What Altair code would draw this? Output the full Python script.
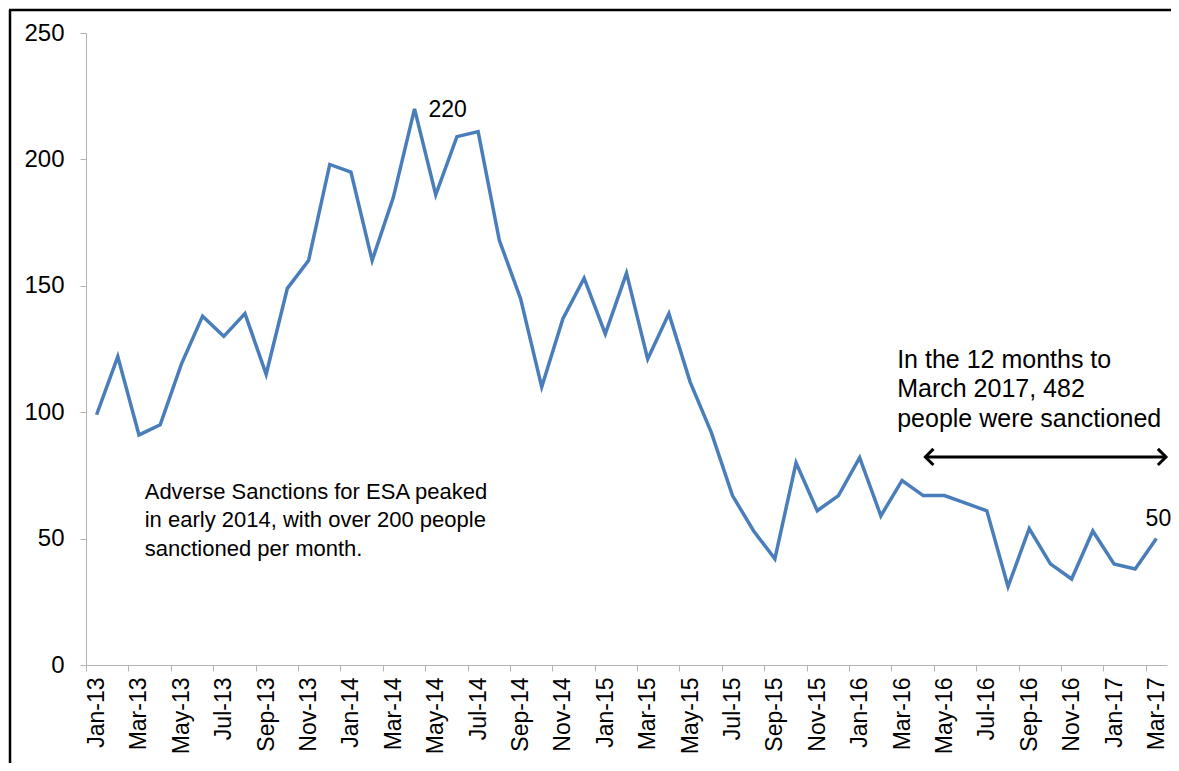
import json
import altair as alt
import pandas as pd

# ---------------- data ----------------
months = [
    "Jan-13", "Feb-13", "Mar-13", "Apr-13", "May-13", "Jun-13", "Jul-13", "Aug-13", "Sep-13", "Oct-13", "Nov-13", "Dec-13",
    "Jan-14", "Feb-14", "Mar-14", "Apr-14", "May-14", "Jun-14", "Jul-14", "Aug-14", "Sep-14", "Oct-14", "Nov-14", "Dec-14",
    "Jan-15", "Feb-15", "Mar-15", "Apr-15", "May-15", "Jun-15", "Jul-15", "Aug-15", "Sep-15", "Oct-15", "Nov-15", "Dec-15",
    "Jan-16", "Feb-16", "Mar-16", "Apr-16", "May-16", "Jun-16", "Jul-16", "Aug-16", "Sep-16", "Oct-16", "Nov-16", "Dec-16",
    "Jan-17", "Feb-17", "Mar-17",
]
sanctions = [
    99, 122, 91, 95, 119, 138, 130, 139, 115, 149, 160, 198,
    195, 160, 185, 220, 186, 209, 211, 168, 145, 110, 137, 153,
    131, 155, 121, 139, 112, 92, 67, 53, 42, 80, 61, 67,
    82, 59, 73, 67, 67, 64, 61, 31, 54, 40, 34, 53,
    40, 38, 50,
]
y_ticks = [0, 50, 100, 150, 200, 250]

# annotations (data coordinates: month index, value)
note1_lines = ["Adverse Sanctions for ESA peaked", "in early 2014, with over 200 people", "sanctioned per month."]
note1_pos = [2.27, 72.5]
note2_lines = ["In the 12 months to", "March 2017, 482", "people were sanctioned"]
note2_pos = [37.77, 125.5]
arrow_span = [39.1, 50.45]
arrow_value = 82.3
peak_label = ["220", 15, 220]
last_label = ["50", 50, 50]

# ---------------- chart ----------------
W, H = 1081, 632
FONT = "Liberation Sans"
BLUE = "#4a7ebb"
AXIS_GREY = "#b3b3b3"
n = len(months)

df = pd.DataFrame({"idx": list(range(n)), "month": months, "value": sanctions})

label_expr = f"{json.dumps(months)}[round(datum.value + 0.5)]"
x_scale = alt.Scale(domain=[-0.5, n - 0.5], nice=False, zero=False)
y_scale = alt.Scale(domain=[0, 250], nice=False)

x_axis = alt.Axis(
    values=[i - 0.5 for i in range(0, n, 2)],
    labelExpr=label_expr,
    labelOffset=W / n / 2,
    labelAngle=270,
    labelFont=FONT,
    labelFontSize=23,
    labelColor="black",
    labelPadding=6,
    labelOverlap=False,
    labelBound=False,
    labelFlush=False,
    tickSize=6,
    tickColor=AXIS_GREY,
    domainColor=AXIS_GREY,
    grid=False,
    title=None,
)
y_axis = alt.Axis(
    values=y_ticks,
    labelFont=FONT,
    labelFontSize=24,
    labelColor="black",
    labelPadding=16,
    tickSize=6,
    tickColor=AXIS_GREY,
    domainColor=AXIS_GREY,
    grid=False,
    title=None,
)

line = alt.Chart(df).mark_line(color=BLUE, strokeWidth=3.5).encode(
    x=alt.X("idx:Q", scale=x_scale, axis=x_axis),
    y=alt.Y("value:Q", scale=y_scale, axis=y_axis),
)

ann = pd.DataFrame({
    "text": [peak_label[0], last_label[0]],
    "idx": [peak_label[1], last_label[1]],
    "value": [peak_label[2], last_label[2]],
})
peak_text = alt.Chart(ann.iloc[[0]]).mark_text(
    font=FONT, fontSize=23, align="left", baseline="middle", dx=14, dy=1, color="black"
).encode(x=alt.X("idx:Q", scale=x_scale), y=alt.Y("value:Q", scale=y_scale), text="text:N")
last_text = alt.Chart(ann.iloc[[1]]).mark_text(
    font=FONT, fontSize=23, align="center", baseline="middle", dx=2, dy=-20, color="black"
).encode(x=alt.X("idx:Q", scale=x_scale), y=alt.Y("value:Q", scale=y_scale), text="text:N")

note1 = alt.Chart(pd.DataFrame({"idx": [note1_pos[0]], "value": [note1_pos[1]]})).mark_text(
    font=FONT, fontSize=22, align="left", baseline="top", lineHeight=28.5, color="black",
    text=note1_lines,
).encode(x=alt.X("idx:Q", scale=x_scale), y=alt.Y("value:Q", scale=y_scale))

note2 = alt.Chart(pd.DataFrame({"idx": [note2_pos[0]], "value": [note2_pos[1]]})).mark_text(
    font=FONT, fontSize=25, align="left", baseline="top", lineHeight=29.5, color="black",
    text=note2_lines,
).encode(x=alt.X("idx:Q", scale=x_scale), y=alt.Y("value:Q", scale=y_scale))

arrow_df = pd.DataFrame({"x1": [arrow_span[0]], "x2": [arrow_span[1]], "value": [arrow_value]})
shaft = alt.Chart(arrow_df).mark_rule(color="black", strokeWidth=3).encode(
    x=alt.X("x1:Q", scale=x_scale), x2="x2:Q", y=alt.Y("value:Q", scale=y_scale)
)
heads_df = pd.DataFrame({
    "idx": arrow_span,
    "value": [arrow_value, arrow_value],
})
left_head = alt.Chart(heads_df.iloc[[0]]).mark_point(
    shape="M1,-1 L0,0 L1,1", size=260, filled=False, color="black", strokeWidth=3, opacity=1
).encode(x=alt.X("idx:Q", scale=x_scale), y=alt.Y("value:Q", scale=y_scale))
right_head = alt.Chart(heads_df.iloc[[1]]).mark_point(
    shape="M-1,-1 L0,0 L-1,1", size=260, filled=False, color="black", strokeWidth=3, opacity=1
).encode(x=alt.X("idx:Q", scale=x_scale), y=alt.Y("value:Q", scale=y_scale))

# outer chart-area frame (left and top edges visible in the reference)
frame_df = pd.DataFrame({"k": [0]})
frame_left = alt.Chart(frame_df).mark_rule(color="black", strokeWidth=2.5).encode(
    x=alt.value(-76), y=alt.value(-23), y2=alt.value(H + 120)
)
frame_top = alt.Chart(frame_df).mark_rule(color="black", strokeWidth=2.5).encode(
    x=alt.value(-77), x2=alt.value(W + 30), y=alt.value(-23)
)

chart = alt.layer(
    frame_left, frame_top, line, peak_text, last_text, note1, note2, shaft, left_head, right_head
).properties(
    width=W,
    height=H,
    autosize=alt.AutoSizeParams(type="none"),
    padding={"left": 78, "top": 25, "right": 4, "bottom": 98},
    background="white",
).configure_view(stroke=None)

chart.save("out.html", embed_options={"renderer": "svg", "actions": False})
